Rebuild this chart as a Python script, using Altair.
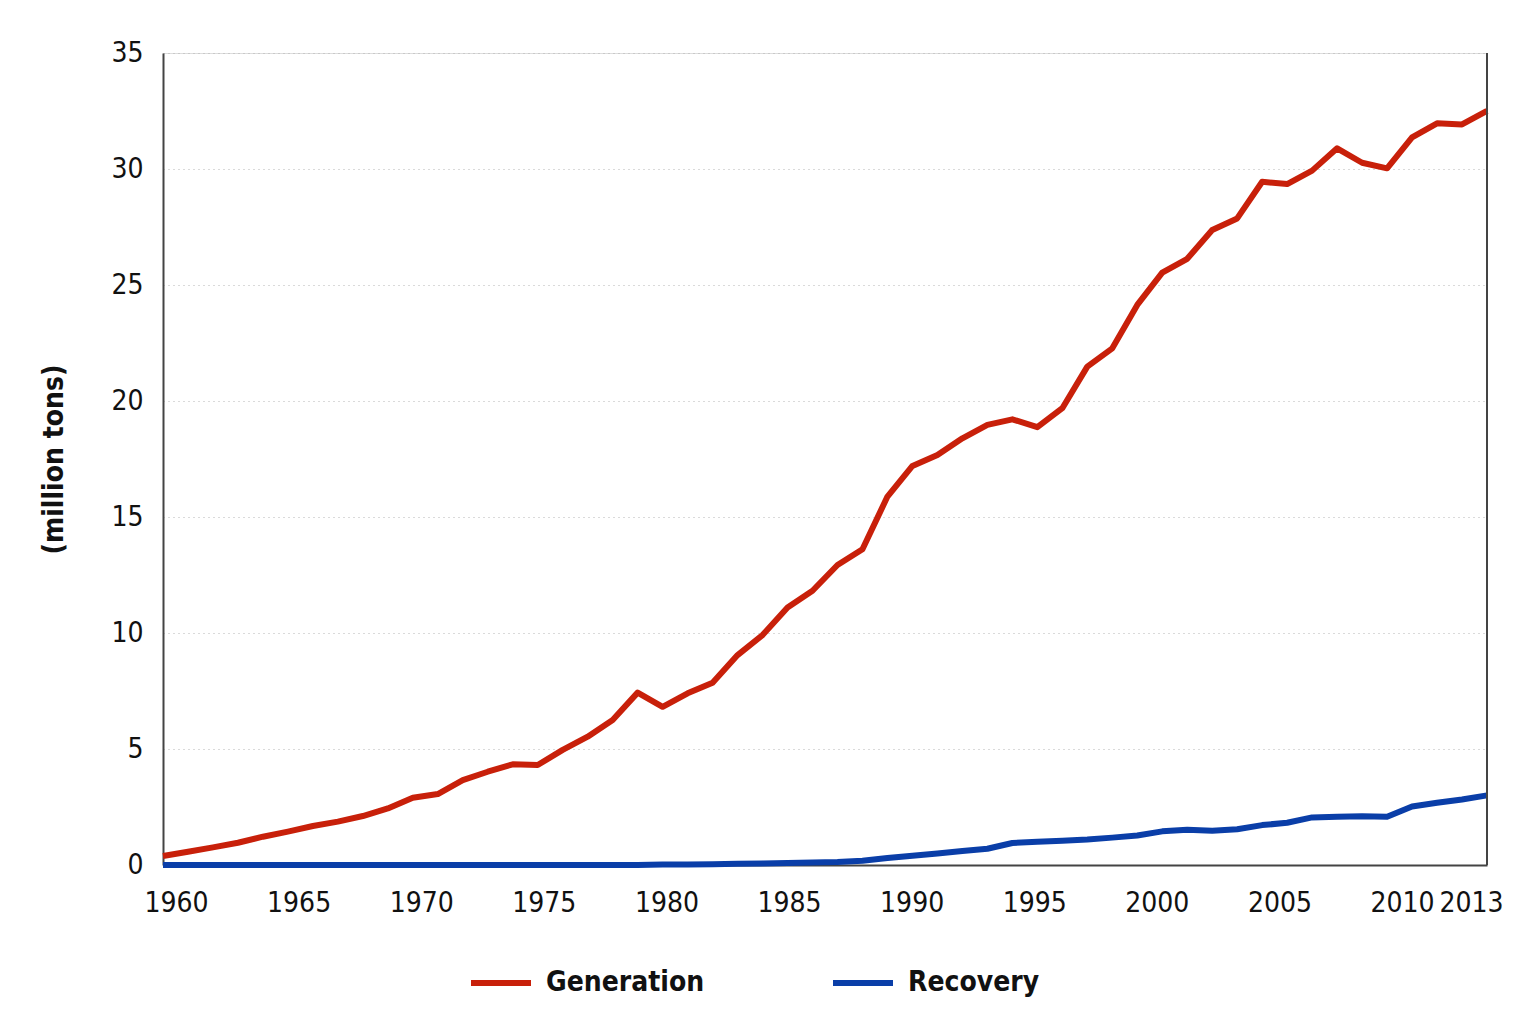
import altair as alt
import pandas as pd

years = list(range(1960, 2014))

generation = [
    0.39, 0.57, 0.76, 0.96, 1.22, 1.44, 1.68, 1.87, 2.11, 2.44,
    2.90, 3.06, 3.66, 4.02, 4.34, 4.31, 4.96, 5.53, 6.25, 7.43,
    6.82, 7.40, 7.86, 9.05, 9.91, 11.10, 11.82, 12.93, 13.61, 15.88,
    17.20, 17.67, 18.39, 18.97, 19.21, 18.87, 19.69, 21.48, 22.27, 24.14,
    25.53, 26.13, 27.37, 27.87, 29.45, 29.35, 29.93, 30.89, 30.27, 30.03,
    31.36, 31.97, 31.92, 32.51,
]

recovery = [
    0.0, 0.0, 0.0, 0.0, 0.0, 0.0, 0.0, 0.0, 0.0, 0.0,
    0.0, 0.0, 0.0, 0.0, 0.0, 0.0, 0.0, 0.0, 0.0, 0.0,
    0.02, 0.02, 0.03, 0.05, 0.07, 0.09, 0.11, 0.13, 0.18, 0.30,
    0.40, 0.50, 0.60, 0.70, 0.95, 1.00, 1.05, 1.10, 1.18, 1.27,
    1.45, 1.52, 1.48, 1.54, 1.72, 1.82, 2.05, 2.08, 2.10, 2.08,
    2.52, 2.68, 2.82, 3.00,
]

series_names = ["Generation", "Recovery"]
series_colors = ["#C8200A", "#0A3EA8"]
x_ticks = [1960, 1965, 1970, 1975, 1980, 1985, 1990, 1995, 2000, 2005, 2010, 2013]
y_ticks = [0, 5, 10, 15, 20, 25, 30, 35]

rows = []
for name, vals in zip(series_names, [generation, recovery]):
    for y, v in zip(years, vals):
        rows.append({"year": y, "value": v, "series": name})
df = pd.DataFrame(rows)

FONT = "'Liberation Sans Narrow', 'DejaVu Sans Condensed', 'Open Sans', sans-serif"

x_enc = alt.X(
    "year:Q",
    scale=alt.Scale(domain=[1960, 2013], nice=False, zero=False),
    axis=alt.Axis(
        values=x_ticks,
        format="d",
        title=None,
        grid=False,
        ticks=False,
        domainColor="#444444",
        domainWidth=2,
        labelFont=FONT,
        labelFontSize=28,
        labelColor="#111111",
        labelPadding=24,
        labelOffset={"expr": "datum.value == 2013 ? -16 : 13 - (datum.value - 1960) * 0.46"},
        labelOverlap=False,
        labelFlush=False,
    ),
)

y_enc = alt.Y(
    "value:Q",
    scale=alt.Scale(domain=[0, 35], nice=False),
    axis=alt.Axis(
        values=y_ticks,
        title="(million tons)",
        titleFont=FONT,
        titleFontSize=28,
        titleFontWeight="bold",
        titleColor="#111111",
        titlePadding=42,
        grid=True,
        gridColor="#b5b5b5",
        gridDash=[1, 4],
        gridWidth=1,
        ticks=False,
        domainColor="#444444",
        domainWidth=2,
        labelFont=FONT,
        labelFontSize=28,
        labelColor="#111111",
        labelPadding=20,
    ),
)

lines = alt.Chart(df).mark_line(strokeWidth=6, strokeCap="butt", strokeJoin="round").encode(
    x=x_enc,
    y=y_enc,
    color=alt.Color(
        "series:N",
        scale=alt.Scale(domain=series_names, range=series_colors),
        legend=alt.Legend(
            title=None,
            orient="none",
            direction="horizontal",
            legendX=305,
            legendY=897,
            symbolType="stroke",
            symbolSize=3600,
            symbolStrokeWidth=6,
            labelFont=FONT,
            labelFontSize=28,
            labelFontWeight="bold",
            labelColor="#111111",
            labelOffset=12,
            columnPadding=116,
            labelLimit=400,
        ),
    ),
    order=alt.Order("year:Q"),
)

right_border = alt.Chart(pd.DataFrame({"x": [2013]})).mark_rule(
    color="#444444", strokeWidth=2
).encode(
    x=alt.X("x:Q"),
    y=alt.datum(0),
    y2=alt.datum(35),
)

chart = alt.layer(lines, right_border).properties(
    width=1324,
    height=812,
    autosize=alt.AutoSizeParams(type="none"),
    padding={"left": 155, "top": 45, "right": 41, "bottom": 150},
).configure_view(stroke=None).configure(background="white")

chart.save("out.html", embed_options={"renderer": "svg", "actions": False})
